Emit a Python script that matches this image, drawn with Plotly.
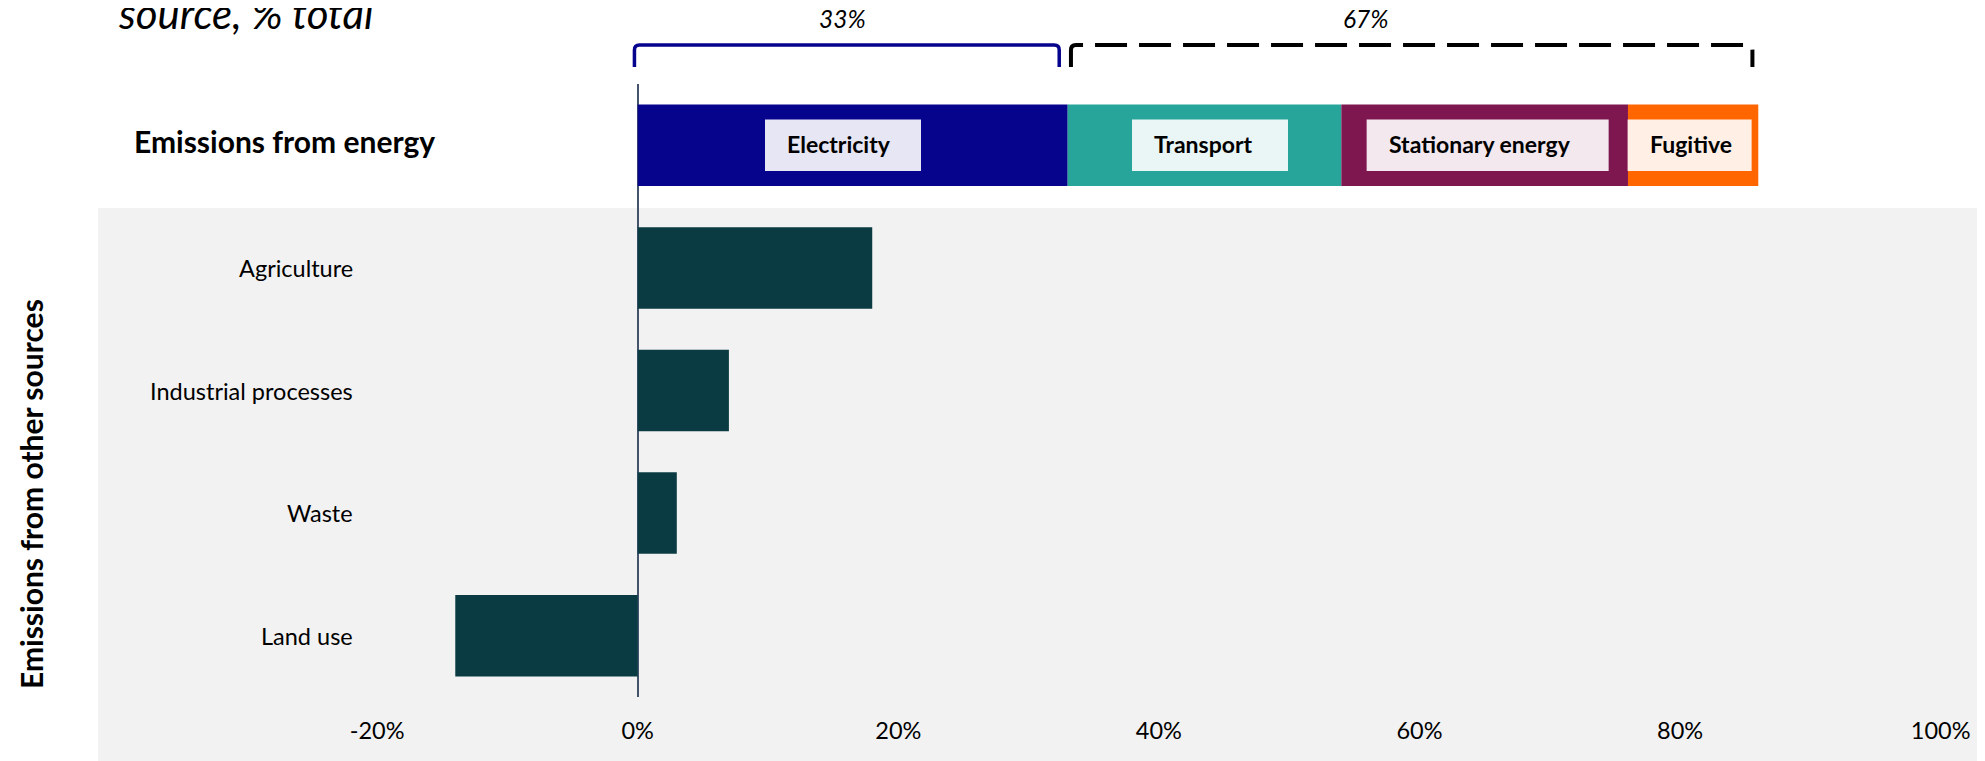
import plotly.graph_objects as go

# ---------------- data ----------------
energy_category = "Emissions from energy"
energy_segments = ["Electricity", "Transport", "Stationary energy", "Fugitive"]
energy_values = [33, 21, 22, 10]
other_categories = ["Agriculture", "Industrial processes", "Waste", "Land use"]
other_values = [18, 7, 3, -14]
x_tick_values = [-20, 0, 20, 40, 60, 80, 100]
x_tick_labels = ["-20%", "0%", "20%", "40%", "60%", "80%", "100%"]
title_text = "source, % total"
group_title = "Emissions from other sources"

# ---------------- style ----------------
OFF = 8                   # page body margin
W, H = 1985 - OFF, 761 - OFF
ML, MR, MT, MB = 98 - OFF, 0, 84 - OFF, 64
PLOT_W = W - ML - MR
PLOT_H = H - MT - MB
PLOT_LEFT_SCREEN = ML + OFF
PLOT_BOTTOM_SCREEN = H - MB + OFF
ZERO_PX = 637.7          # screen pixel position of 0%
PX_PER_PCT = 13.03
X_RANGE = [(PLOT_LEFT_SCREEN - ZERO_PX) / PX_PER_PCT,
           (PLOT_LEFT_SCREEN + PLOT_W - ZERO_PX) / PX_PER_PCT]

seg_colors = ["#06038D", "#27A59A", "#7E1650", "#FF6600"]
box_colors = ["#E6E6F4", "#E9F6F5", "#F2E8EE", "#FFEFE5"]
box_widths_px = [156, 156, 242, 124]
box_offsets_px = [-9.7, 5.5, 3.0, -3.5]
other_color = "#0A3B42"
grey_bg = "#F2F2F2"
FONT = "Lato, Carlito, Calibri, sans-serif"


def py(screen_y):
    return (PLOT_BOTTOM_SCREEN - screen_y) / PLOT_H


def px(screen_x):
    return (screen_x - PLOT_LEFT_SCREEN) / PLOT_W


fig = go.Figure()

# stacked energy bar
for name, val, col in zip(energy_segments, energy_values, seg_colors):
    fig.add_trace(go.Bar(
        y=[energy_category], x=[val], orientation="h", name=name,
        marker=dict(color=col, line=dict(width=0)), hoverinfo="name+x",
    ))

# other sources
fig.add_trace(go.Bar(
    y=other_categories, x=other_values, orientation="h", name="Other sources",
    marker=dict(color=other_color, line=dict(width=0)),
))

cat_order = list(reversed(other_categories)) + [energy_category]

shapes = []
annotations = []

# grey background for other sources area
shapes.append(dict(
    type="rect", xref="paper", yref="paper", x0=0, x1=1,
    y0=-0.3, y1=py(208), fillcolor=grey_bg,
    line=dict(width=0), layer="below",
))

# segment label boxes + text
cum = 0
for name, val, bcol, bw, off in zip(energy_segments, energy_values, box_colors,
                                      box_widths_px, box_offsets_px):
    center = cum + val / 2
    left = center + (off - bw / 2) / PX_PER_PCT
    right = left + bw / PX_PER_PCT
    shapes.append(dict(
        type="rect", xref="x", yref="y", x0=left, x1=right,
        y0=4 - 0.21, y1=4 + 0.21, fillcolor=bcol, line=dict(width=0),
    ))
    annotations.append(dict(
        xref="x", yref="y", x=left, y=4, xanchor="left", yanchor="middle",
        xshift=20, yshift=1, text=f"<b>{name}</b>", showarrow=False,
        font=dict(family=FONT, size=23, color="#000000"),
    ))
    cum += val

energy_total = sum(energy_values)
grand_total = energy_total + sum(other_values)
elec = energy_values[0]

# brackets
top_y = py(45)
leg_y = py(67)
rx = 5 / PX_PER_PCT
ry = 5 / PLOT_H


def bracket_path(xa, xb):
    return (f"M {xa},{leg_y} L {xa},{top_y - ry} Q {xa},{top_y} {xa + rx},{top_y} "
            f"L {xb - rx},{top_y} Q {xb},{top_y} {xb},{top_y - ry} L {xb},{leg_y}")


shapes.append(dict(
    type="path", xref="x", yref="paper",
    path=bracket_path(-0.25, elec - 0.65),
    line=dict(color="#06038D", width=3.5),
))
shapes.append(dict(
    type="path", xref="x", yref="paper",
    path=bracket_path(elec + 0.25, energy_total - 0.45),
    line=dict(color="#000000", width=4, dash="32px,12px"),
))

share_elec = round(elec / grand_total * 100)
share_rest = 100 - share_elec
for txt, xpos in [(f"{share_elec}%", 15.7), (f"{share_rest}%", 55.9)]:
    annotations.append(dict(
        xref="x", yref="paper", x=xpos, y=py(18.5),
        xanchor="center", yanchor="middle", text=f"<i>{txt}</i>",
        showarrow=False, font=dict(family=FONT, size=24.5, color="#000000"),
    ))

# category labels
for cat in other_categories:
    annotations.append(dict(
        xref="x", yref="y", x=(354.5 - ZERO_PX) / PX_PER_PCT, y=cat,
        xanchor="right", yanchor="middle", text=cat, showarrow=False,
        font=dict(family=FONT, size=23.5, color="#000000"),
    ))

annotations.append(dict(
    xref="paper", yref="y", x=px(131.7), y=energy_category,
    xanchor="left", yanchor="middle", text=f"<b>{energy_category}</b>",
    showarrow=False, yshift=4, font=dict(family=FONT, size=30, color="#000000"),
))

annotations.append(dict(
    xref="paper", yref="paper", x=px(31), y=py(494),
    xanchor="center", yanchor="middle", text=f"<b>{group_title}</b>",
    textangle=-90, showarrow=False,
    font=dict(family=FONT, size=30, color="#000000"),
))

annotations.append(dict(
    xref="paper", yref="paper", x=px(116), y=py(40),
    xanchor="left", yanchor="bottom", text=f"<i>{title_text}</i>",
    showarrow=False, font=dict(family=FONT, size=42, color="#000000"),
))

fig.update_layout(
    width=W, height=H,
    margin=dict(l=ML, r=MR, t=MT, b=MB, pad=0, autoexpand=False),
    barmode="relative", bargap=0.335,
    paper_bgcolor="#FFFFFF", plot_bgcolor="rgba(0,0,0,0)",
    showlegend=False,
    shapes=shapes, annotations=annotations,
    font=dict(family=FONT, color="#000000"),
    xaxis=dict(
        range=X_RANGE, tickmode="array", tickvals=x_tick_values,
        ticktext=x_tick_labels, showgrid=False, zeroline=True,
        zerolinecolor="#44546A", zerolinewidth=1.5, showline=False,
        ticks="", ticklabelstandoff=17,
        tickfont=dict(family=FONT, size=23.5, color="#000000"),
        fixedrange=True,
    ),
    yaxis=dict(
        type="category", categoryorder="array", categoryarray=cat_order,
        range=[-0.5, 4.5], showticklabels=False, showgrid=False,
        zeroline=False, showline=False, ticks="", fixedrange=True,
    ),
)

fig.write_html("out.html")
